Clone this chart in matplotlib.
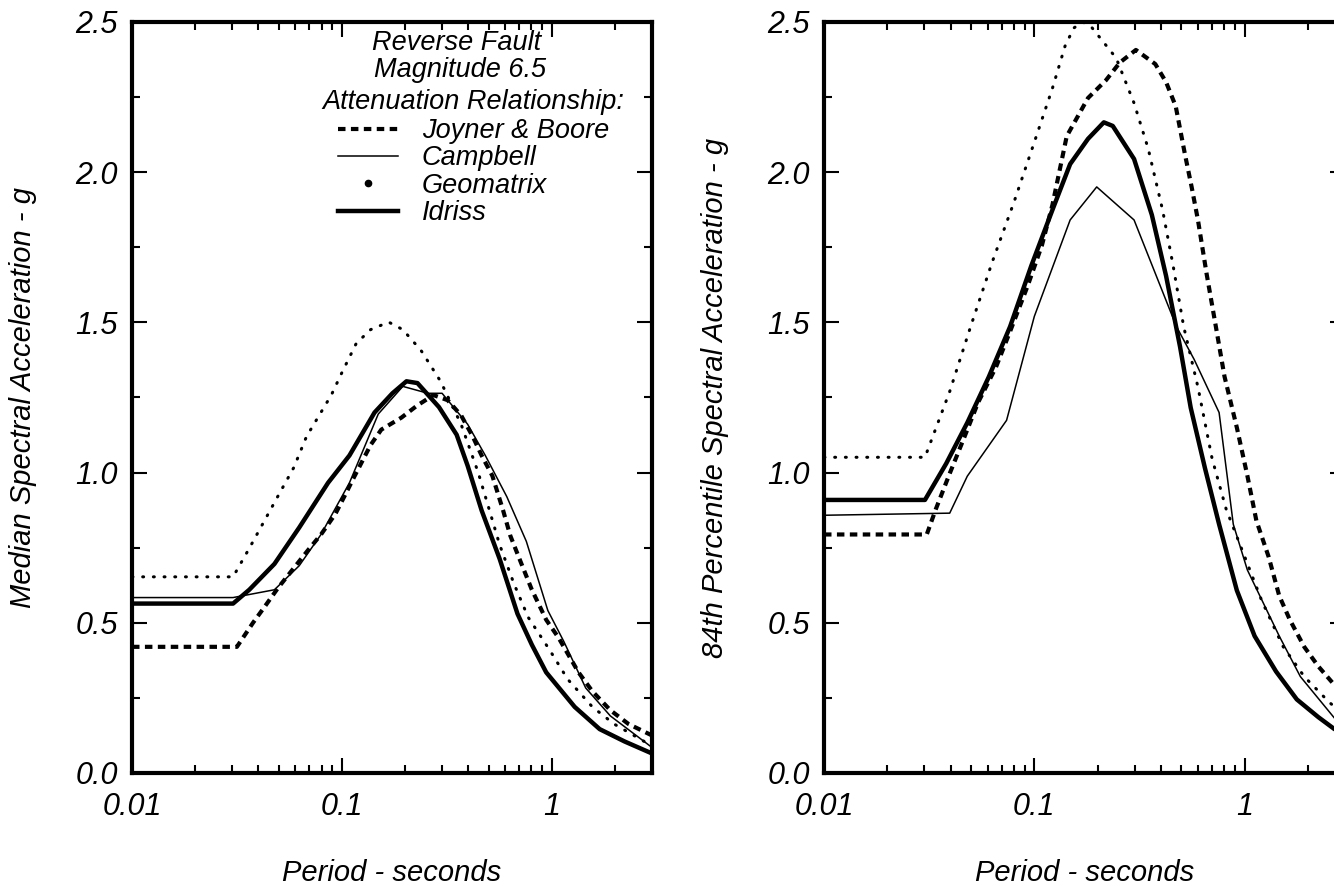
import matplotlib
matplotlib.use("Agg")
import matplotlib.pyplot as plt
from matplotlib.lines import Line2D
from matplotlib.ticker import LogLocator, MultipleLocator, NullFormatter, FormatStrFormatter

plt.rcParams['font.family'] = ['Liberation Sans', 'DejaVu Sans']
plt.rcParams['font.style'] = 'italic'

# ====================================================
# Data
# ====================================================

# --- Median spectra ---
med_jb_T = [0.01, 0.0316, 0.0377, 0.0428, 0.0496, 0.069, 0.0795, 0.093, 0.1045, 0.115,
            0.137, 0.154, 0.192, 0.229, 0.273, 0.319, 0.37, 0.42, 0.463, 0.521, 0.586,
            0.634, 0.713, 0.803, 0.94, 1.077, 1.34, 1.56, 1.9, 2.32, 3.0]
med_jb_sa = [0.42, 0.42, 0.50, 0.553, 0.616, 0.742, 0.794, 0.862, 0.931, 0.989,
             1.092, 1.143, 1.183, 1.224, 1.258, 1.241, 1.19, 1.12, 1.057, 0.989, 0.874,
             0.79, 0.70, 0.61, 0.51, 0.45, 0.335, 0.272, 0.209, 0.163, 0.125]

med_camp_T = [0.01, 0.0303, 0.0477, 0.0626, 0.0795, 0.1086, 0.149, 0.195, 0.257, 0.3,
              0.397, 0.482, 0.61, 0.756, 0.957, 1.14, 1.45, 1.9, 3.0]
med_camp_sa = [0.584, 0.584, 0.61, 0.69, 0.794, 0.966, 1.195, 1.287, 1.264, 1.264,
               1.161, 1.057, 0.92, 0.771, 0.541, 0.438, 0.283, 0.19, 0.085]

med_geo_T = [0.01, 0.0303, 0.0362, 0.0496, 0.059, 0.0678, 0.089, 0.1, 0.117, 0.137,
             0.167, 0.195, 0.238, 0.295, 0.37, 0.446, 0.492, 0.564, 0.66, 0.772,
             0.977, 1.19, 1.56, 1.98, 3.0]
med_geo_sa = [0.653, 0.653, 0.748, 0.922, 1.017, 1.12, 1.258, 1.333, 1.43, 1.476,
              1.501, 1.476, 1.407, 1.304, 1.16, 1.0, 0.90, 0.76, 0.63, 0.518,
              0.409, 0.312, 0.22, 0.163, 0.09]

med_idr_T = [0.01, 0.0303, 0.0362, 0.0477, 0.0626, 0.0859, 0.1086, 0.143, 0.174, 0.203,
             0.229, 0.29, 0.352, 0.397, 0.463, 0.564, 0.686, 0.803, 0.94, 1.285,
             1.69, 2.22, 3.0]
med_idr_sa = [0.564, 0.564, 0.61, 0.696, 0.817, 0.966, 1.057, 1.2, 1.264, 1.304,
              1.298, 1.218, 1.126, 1.023, 0.874, 0.713, 0.53, 0.427, 0.335, 0.22,
              0.146, 0.105, 0.065]

# --- 84th percentile spectra ---
p84_jb_T = [0.01, 0.0308, 0.034, 0.0396, 0.0463, 0.054, 0.0657, 0.0767, 0.093, 0.1087,
            0.122, 0.1426, 0.18, 0.219, 0.255, 0.304, 0.376, 0.423, 0.47, 0.52, 0.56,
            0.6, 0.66, 0.728, 0.802, 0.918, 1.03, 1.137, 1.30, 1.46, 1.64, 1.92,
            2.24, 2.62, 3.0]
p84_jb_sa = [0.794, 0.794, 0.878, 0.997, 1.115, 1.233, 1.351, 1.47, 1.622, 1.757,
             1.892, 2.12, 2.247, 2.306, 2.365, 2.407, 2.36, 2.30, 2.22, 2.06, 1.95,
             1.84, 1.66, 1.49, 1.32, 1.15, 0.99, 0.84, 0.72, 0.59, 0.51, 0.42,
             0.355, 0.30, 0.26]

p84_camp_T = [0.01, 0.0396, 0.048, 0.0738, 0.1, 0.148, 0.198, 0.298, 0.474, 0.575,
              0.756, 0.883, 1.03, 1.46, 1.84, 3.0]
p84_camp_sa = [0.858, 0.865, 0.988, 1.174, 1.52, 1.841, 1.951, 1.841, 1.486, 1.377,
               1.2, 0.828, 0.676, 0.456, 0.321, 0.14]

p84_geo_T = [0.01, 0.0302, 0.0396, 0.05, 0.063, 0.08, 0.1, 0.122, 0.14, 0.154, 0.17,
             0.187, 0.245, 0.298, 0.348, 0.407, 0.457, 0.513, 0.6, 0.7, 0.817, 0.993,
             1.205, 1.52, 1.92, 2.52, 3.0]
p84_geo_sa = [1.051, 1.051, 1.27, 1.49, 1.70, 1.90, 2.10, 2.28, 2.42, 2.48, 2.50,
              2.483, 2.38, 2.23, 2.078, 1.875, 1.689, 1.486, 1.284, 1.047, 0.878, 0.726,
              0.574, 0.422, 0.321, 0.236, 0.19]

p84_idr_T = [0.01, 0.0302, 0.0381, 0.048, 0.0607, 0.0767, 0.0968, 0.122, 0.148, 0.18,
             0.214, 0.236, 0.298, 0.362, 0.423, 0.493, 0.554, 0.648, 0.756, 0.918,
             1.115, 1.41, 1.77, 2.24, 3.0]
p84_idr_sa = [0.909, 0.909, 1.03, 1.166, 1.318, 1.486, 1.689, 1.875, 2.027, 2.111,
              2.166, 2.154, 2.044, 1.858, 1.655, 1.419, 1.216, 1.014, 0.828, 0.608,
              0.456, 0.338, 0.245, 0.186, 0.12]

series_names = ["Joyner & Boore", "Campbell", "Geomatrix", "Idriss"]
header_lines = ["Reverse Fault", "Magnitude 6.5", "Attenuation Relationship:"]
x_ticks = [0.01, 0.1, 1]
x_tick_labels = ["0.01", "0.1", "1"]
y_labels = ["Median Spectral Acceleration - g",
            "84th Percentile Spectral Acceleration - g"]

# ====================================================
# Styles
# ====================================================
styles = {
    "Joyner & Boore": dict(color="black", lw=3.0, ls=(0, (1.8, 1.3))),
    "Campbell": dict(color="black", lw=1.1, ls="-"),
    "Geomatrix": dict(color="black", lw=2.2, ls=(0, (0.3, 3.2)), dash_capstyle="round"),
    "Idriss": dict(color="black", lw=3.2, ls="-"),
}

W, H = 1334, 886
fig = plt.figure(figsize=(W / 100, H / 100), dpi=100)

# axes boxes in pixels: left, right, top, bottom
ax1 = fig.add_axes([132 / W, 1 - 773 / H, (652 - 132) / W, (773 - 22) / H])
ax2 = fig.add_axes([824 / W, 1 - 773 / H, (1345 - 824) / W, (773 - 22) / H])

panels = [
    (ax1, [(med_jb_T, med_jb_sa), (med_camp_T, med_camp_sa),
           (med_geo_T, med_geo_sa), (med_idr_T, med_idr_sa)]),
    (ax2, [(p84_jb_T, p84_jb_sa), (p84_camp_T, p84_camp_sa),
           (p84_geo_T, p84_geo_sa), (p84_idr_T, p84_idr_sa)]),
]

for i, (ax, data) in enumerate(panels):
    for name, (T, sa) in zip(series_names, data):
        ax.plot(T, sa, solid_capstyle="butt", **styles[name])

    ax.set_xscale("log")
    ax.set_xlim(0.01, 3.0)
    ax.set_ylim(0, 2.5)
    ax.set_xticks(x_ticks)
    ax.set_xticklabels(x_tick_labels)
    ax.xaxis.set_minor_locator(LogLocator(base=10, subs=range(2, 10)))
    ax.xaxis.set_minor_formatter(NullFormatter())
    ax.yaxis.set_major_locator(MultipleLocator(0.5))
    ax.yaxis.set_minor_locator(MultipleLocator(0.25))
    ax.yaxis.set_major_formatter(FormatStrFormatter("%.1f"))

    ax.tick_params(which="both", direction="in", top=True, right=True,
                   width=1.5, labelsize=22)
    ax.tick_params(which="major", length=11)
    ax.tick_params(which="minor", length=6)
    ax.tick_params(axis="x", pad=14)
    ax.tick_params(axis="y", pad=10)
    for sp in ax.spines.values():
        sp.set_linewidth(3)

    ax.set_xlabel("Period - seconds", fontsize=21, labelpad=26)
    ax.set_ylabel(y_labels[i], fontsize=21, labelpad=28)

# Legend block on the left panel
for k, line in enumerate(header_lines):
    ax1.text([0.625, 0.631, 0.656][k], [0.972, 0.936, 0.893][k], line,
             transform=ax1.transAxes, ha="center", va="center", fontsize=19.5)

handles = [
    Line2D([], [], **styles["Joyner & Boore"]),
    Line2D([], [], **styles["Campbell"]),
    Line2D([], [], color="black", ls="none", marker="o", ms=4.5),
    Line2D([], [], **styles["Idriss"]),
]
ax1.legend(handles, series_names, loc="upper left", bbox_to_anchor=(0.396, 0.872),
           frameon=False, fontsize=19.5, handlelength=2.23, handletextpad=0.87,
           labelspacing=0.05, borderpad=0, borderaxespad=0, numpoints=1)

fig.savefig("out.png", dpi=100)
